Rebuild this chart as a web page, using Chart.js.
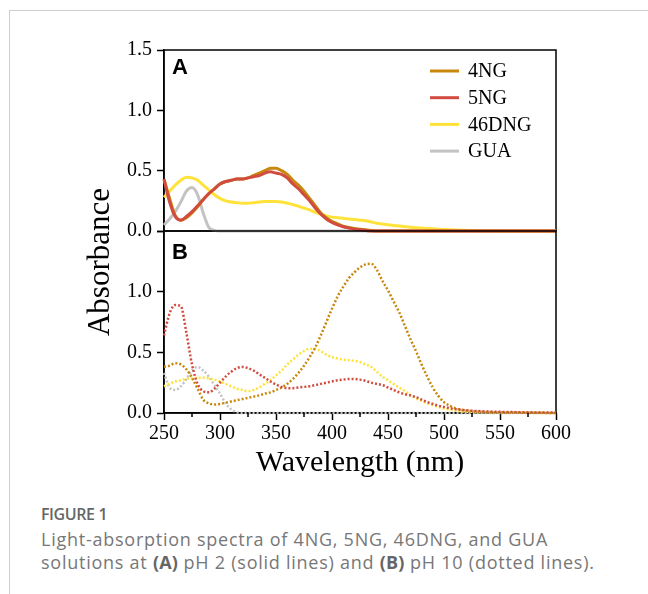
<!DOCTYPE html>
<html>
<head>
<meta charset="utf-8">
<script src="https://cdn.jsdelivr.net/npm/chart.js@4.4.0/dist/chart.umd.min.js"></script>
<style>
  body { margin: 0; background: #fff; }
  #wrap { position: relative; width: 648px; height: 594px; overflow: hidden; }
  #frame { position: absolute; left: 9px; top: 10px; width: 650px; height: 600px;
           border-top: 1px solid #cfcfcf; border-left: 1px solid #cfcfcf; }
  canvas { position: absolute; left: 0; top: 0; }
  .cap { position: absolute; left: 41px; font-family: "Open Sans", sans-serif; color: #777;
         font-size: 18px; line-height: 23px; white-space: nowrap; letter-spacing: 0.75px; }
  #fig { top: 503px; font-size: 16px; font-weight: 600; color: #666; letter-spacing: -0.4px; }
  #txt { top: 528px; }
  #txt b { color: #666; font-weight: 700; letter-spacing: 0.2px; }
</style>
</head>
<body>
<div id="wrap">
  <div id="frame"></div>
  <canvas id="chartA" width="648" height="490"></canvas>
  <canvas id="chartB" width="648" height="490"></canvas>
  <div class="cap" id="fig">FIGURE 1</div>
  <div class="cap" id="txt">Light-absorption spectra of 4NG, 5NG, 46DNG, and GUA<br>solutions at <b>(A)</b> pH 2 (solid lines) and <b>(B)</b> pH 10 (dotted lines).</div>
</div>
<script>
// wavelength grid (nm)
const wavelengths = [250,255,260,265,270,275,280,285,290,295,
  300,305,310,315,320,325,330,335,340,345,
  350,355,360,365,370,375,380,385,390,395,
  400,405,410,415,420,425,430,435,440,445,
  450,455,460,465,470,475,480,485,490,495,
  500,505,510,515,520,540,560,580,600];

const names = ['4NG', '5NG', '46DNG', 'GUA'];
const xTicks = [250, 300, 350, 400, 450, 500, 550, 600];

// (A) pH 2, solid lines
const ng4_pH2 = [0.43,0.27,0.13,0.09,0.11,0.15,0.20,0.26,0.31,0.35,
  0.39,0.41,0.42,0.43,0.43,0.44,0.46,0.48,0.50,0.52,
  0.52,0.50,0.47,0.42,0.38,0.33,0.27,0.21,0.15,0.11,
  0.08,0.06,0.04,0.03,0.02,0.015,0.01,0.005,0,0,
  0,0,0,0,0,0,0,0,0,0,
  0,0,0,0,0,0,0,0,0];
const ng5_pH2 = [0.43,0.24,0.12,0.09,0.12,0.16,0.21,0.26,0.31,0.35,
  0.39,0.41,0.42,0.43,0.43,0.44,0.45,0.46,0.48,0.49,
  0.48,0.47,0.44,0.39,0.35,0.30,0.25,0.19,0.14,0.10,
  0.07,0.05,0.035,0.025,0.015,0.01,0.005,0,0,0,
  0,0,0,0,0,0,0,0,0,0,
  0,0,0,0,0,0,0,0,0];
const dng46_pH2 = [0.28,0.33,0.38,0.42,0.445,0.44,0.42,0.38,0.34,0.30,
  0.27,0.25,0.24,0.235,0.23,0.23,0.235,0.24,0.245,0.245,
  0.245,0.24,0.23,0.22,0.205,0.19,0.175,0.155,0.14,0.125,
  0.115,0.11,0.105,0.10,0.095,0.09,0.085,0.075,0.065,0.058,
  0.052,0.046,0.041,0.036,0.031,0.027,0.024,0.021,0.019,0.015,
  0.012,0.01,0.008,0.006,0.005,0.002,0,0,0];
const gua_pH2 = [0.05,0.10,0.16,0.24,0.33,0.36,0.30,0.15,0.03,0.005,
  0,0,0,0,0,0,0,0,0,0,
  0,0,0,0,0,0,0,0,0,0,
  0,0,0,0,0,0,0,0,0,0,
  0,0,0,0,0,0,0,0,0,0,
  0,0,0,0,0,0,0,0,0];

// (B) pH 10, dotted lines
const ng4_pH10 = [0.38,0.39,0.41,0.40,0.36,0.29,0.20,0.11,0.08,0.07,
  0.075,0.085,0.095,0.105,0.115,0.125,0.135,0.145,0.16,0.17,
  0.19,0.21,0.24,0.28,0.33,0.39,0.46,0.54,0.64,0.75,
  0.86,0.96,1.04,1.11,1.16,1.20,1.225,1.23,1.18,1.09,
  1.01,0.92,0.83,0.72,0.61,0.51,0.40,0.30,0.21,0.14,
  0.09,0.06,0.04,0.028,0.02,0.008,0.004,0.002,0];
const ng5_pH10 = [0.64,0.82,0.89,0.88,0.66,0.40,0.24,0.18,0.17,0.20,
  0.25,0.30,0.34,0.37,0.38,0.37,0.35,0.32,0.29,0.26,
  0.235,0.215,0.205,0.205,0.21,0.215,0.22,0.23,0.24,0.25,
  0.26,0.27,0.275,0.28,0.28,0.275,0.265,0.25,0.24,0.23,
  0.21,0.19,0.17,0.155,0.145,0.13,0.11,0.09,0.075,0.06,
  0.05,0.04,0.032,0.027,0.022,0.012,0.008,0.005,0.003];
const dng46_pH10 = [0.22,0.24,0.26,0.27,0.28,0.285,0.29,0.29,0.285,0.275,
  0.26,0.24,0.22,0.20,0.19,0.18,0.19,0.21,0.24,0.27,
  0.31,0.35,0.40,0.44,0.48,0.51,0.53,0.53,0.51,0.48,
  0.46,0.45,0.44,0.435,0.43,0.42,0.40,0.38,0.34,0.30,
  0.27,0.24,0.21,0.18,0.15,0.12,0.10,0.08,0.065,0.05,
  0.035,0.028,0.02,0.015,0.01,0.005,0.003,0.001,0];
const gua_pH10 = [0.33,0.21,0.19,0.22,0.28,0.35,0.38,0.35,0.30,0.23,
  0.16,0.08,0.03,0.005,0,0,0,0,0,0,
  0,0,0,0,0,0,0,0,0,0,
  0,0,0,0,0,0,0,0,0,0,
  0,0,0,0,0,0,0,0,0,0,
  0,0,0,0,0,0,0,0,0];

const colors = ['#C8870D', '#D14B3F', '#FFE23A', '#C3C3C3'];
const drawOrder = [2, 1, 3, 4];
const serif = '"Liberation Serif", "Times New Roman", serif';

function makeSets(series, dotted) {
  return series.map((vals, i) => ({
    label: names[i],
    data: vals,
    borderColor: colors[i],
    borderWidth: dotted ? 2.5 : 3,
    borderDash: dotted ? [2, 2] : [],
    pointRadius: 0,
    cubicInterpolationMode: 'monotone',
    order: drawOrder[i],
    clip: 4
  }));
}

// box around each panel
const frame = {
  id: 'frame',
  beforeDatasetsDraw(chart) {
    const a = chart.chartArea, ctx = chart.ctx;
    ctx.save();
    ctx.strokeStyle = '#000';
    ctx.lineWidth = 1.5;
    ctx.strokeRect(a.left, a.top, a.right - a.left, a.bottom - a.top);
    ctx.restore();
  }
};

const panelLabel = {
  id: 'panelLabel',
  afterDraw(chart, args, opts) {
    const ctx = chart.ctx;
    ctx.save();
    ctx.font = 'bold 22px "Liberation Sans", Arial, sans-serif';
    ctx.fillStyle = '#000';
    ctx.textBaseline = 'alphabetic';
    ctx.fillText(opts.text, chart.chartArea.left + 8, chart.chartArea.top + opts.dy);
    ctx.restore();
  }
};

const lineLegend = {
  id: 'lineLegend',
  afterDraw(chart) {
    const ctx = chart.ctx, a = chart.chartArea;
    ctx.save();
    ctx.font = '20px ' + serif;
    ctx.textBaseline = 'middle';
    chart.data.datasets.forEach((ds, i) => {
      const y = a.top + 21 + i * 26.7;
      ctx.strokeStyle = ds.borderColor;
      ctx.lineWidth = 3;
      ctx.beginPath();
      ctx.moveTo(a.right - 126, y);
      ctx.lineTo(a.right - 97, y);
      ctx.stroke();
      ctx.fillStyle = '#000';
      ctx.fillText(ds.label, a.right - 88, y + 1);
    });
    ctx.restore();
  }
};

// minor x ticks + shared y title
const extras = {
  id: 'extras',
  afterDraw(chart) {
    const ctx = chart.ctx, x = chart.scales.x, a = chart.chartArea;
    ctx.save();
    ctx.strokeStyle = '#000';
    ctx.lineWidth = 1.5;
    for (let v = 275; v < 600; v += 50) {
      const px = x.getPixelForValue(v);
      ctx.beginPath();
      ctx.moveTo(px, a.bottom);
      ctx.lineTo(px, a.bottom + 4);
      ctx.stroke();
    }
    ctx.translate(101, 262);
    ctx.rotate(-Math.PI / 2);
    ctx.font = '31px ' + serif;
    ctx.fillStyle = '#000';
    ctx.textAlign = 'center';
    ctx.textBaseline = 'middle';
    ctx.fillText('Absorbance', 0, 0);
    ctx.restore();
  }
};

function yScale(hideTop) {
  return {
    min: 0, max: 1.5,
    afterFit: s => { s.width = 60; },
    border: { color: '#000', width: 1.5 },
    grid: { drawOnChartArea: false, tickLength: 7, color: '#000', tickWidth: 1.5 },
    ticks: {
      stepSize: 0.5, color: '#000', padding: 5,
      font: { family: serif, size: 20 },
      callback: v => (hideTop && v === 1.5) ? '' : v.toFixed(1)
    }
  };
}

new Chart(document.getElementById('chartA'), {
  type: 'line',
  data: { labels: wavelengths, datasets: makeSets([ng4_pH2, ng5_pH2, dng46_pH2, gua_pH2], false) },
  options: {
    responsive: false, animation: false, devicePixelRatio: 1,
    layout: { padding: { left: 104, right: 92, top: 50, bottom: 259 } },
    plugins: { legend: { display: false }, tooltip: { enabled: false },
      panelLabel: { text: 'A', dy: 24 } },
    scales: {
      x: { type: 'linear', min: 250, max: 600, display: false },
      y: yScale(false)
    }
  },
  plugins: [frame, panelLabel, lineLegend]
});

new Chart(document.getElementById('chartB'), {
  type: 'line',
  data: { labels: wavelengths, datasets: makeSets([ng4_pH10, ng5_pH10, dng46_pH10, gua_pH10], true) },
  options: {
    responsive: false, animation: false, devicePixelRatio: 1,
    layout: { padding: { left: 104, right: 92, top: 231, bottom: 1 } },
    plugins: { legend: { display: false }, tooltip: { enabled: false },
      panelLabel: { text: 'B', dy: 28 } },
    scales: {
      x: {
        type: 'linear', min: 250, max: 600,
        afterFit: s => { s.height = 76; },
        afterBuildTicks: s => { s.ticks = xTicks.map(v => ({ value: v })); },
        border: { color: '#000', width: 1.5 },
        grid: { drawOnChartArea: false, tickLength: 7, color: '#000', tickWidth: 1.5 },
        ticks: { color: '#000', padding: 2, maxRotation: 0, font: { family: serif, size: 20 } },
        title: { display: true, text: 'Wavelength (nm)', color: '#000', padding: 8,
          font: { family: serif, size: 30 } }
      },
      y: yScale(true)
    }
  },
  plugins: [frame, panelLabel, extras]
});
</script>
</body>
</html>
